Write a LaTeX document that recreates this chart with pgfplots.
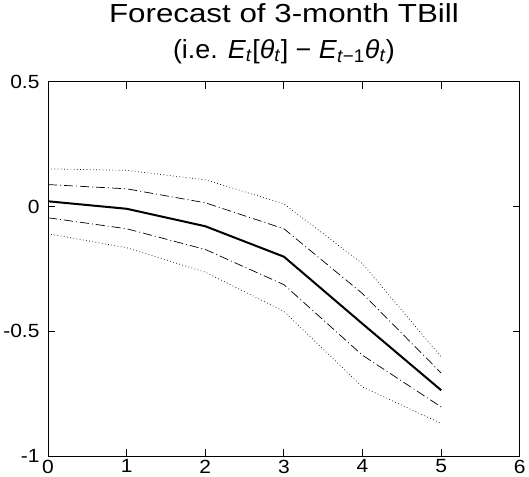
\documentclass[border=0pt]{standalone}
\usepackage{fontspec}
\setmainfont{Liberation Sans}
\newfontfamily\titlefont[FakeStretch=1.2]{Liberation Sans}
\newfontfamily\subtitlefont[FakeStretch=1.03]{Liberation Sans}
\newfontfamily\tickfont[FakeStretch=1.1]{Liberation Sans}
\usepackage{pgfplots}
\pgfplotsset{compat=1.18}

\begin{document}
\begin{tikzpicture}
  \begin{axis}[
    scale only axis,
    width=470pt, height=373pt,
    xmin=0, xmax=6,
    ymin=-1, ymax=0.5,
    xtick={0,1,2,3,4,5,6},
    ytick={-1,-0.5,0,0.5},
    yticklabels={-1,-0.5,0,0.5},
    xticklabels={0,1,2,3,4,5,6},
    tick align=inside,
    major tick length=7pt,
    axis line style={line width=0.9pt},
    tick style={line width=0.9pt, black},
    ticklabel style={font=\tickfont\fontsize{19}{22}\selectfont},
    yticklabel style={xshift=-5pt},
    title style={align=center, inner xsep=0pt, inner ysep=4pt, yshift=8pt,
      font=\titlefont\fontsize{26}{35}\selectfont},
    title={Forecast of 3-month TBill\\{\subtitlefont(i.e. \textit{E}\textsubscript{\textit{t}}[\textit{θ}\textsubscript{\textit{t}}] − \textit{E}\textsubscript{\textit{t}−1}\textit{θ}\textsubscript{\textit{t}})}},
  ]
    % upper dotted band
    \addplot[black, line width=0.7pt, dash pattern=on 0.7pt off 2.5pt] coordinates {
      (0,0.151) (1,0.145) (2,0.107) (3,0.011) (4,-0.229) (5,-0.603)
    };
    % upper dash-dot band
    \addplot[black, line width=0.7pt, dash pattern=on 9pt off 3pt on 1pt off 3pt] coordinates {
      (0,0.088) (1,0.071) (2,0.015) (3,-0.089) (4,-0.349) (5,-0.667)
    };
    % forecast
    \addplot[black, line width=2pt] coordinates {
      (0,0.021) (1,-0.009) (2,-0.079) (3,-0.201) (4,-0.470) (5,-0.736)
    };
    % lower dash-dot band
    \addplot[black, line width=0.7pt, dash pattern=on 9pt off 3pt on 1pt off 3pt] coordinates {
      (0,-0.045) (1,-0.089) (2,-0.172) (3,-0.313) (4,-0.596) (5,-0.803)
    };
    % lower dotted band
    \addplot[black, line width=0.7pt, dash pattern=on 0.7pt off 2.5pt] coordinates {
      (0,-0.109) (1,-0.165) (2,-0.263) (3,-0.420) (4,-0.723) (5,-0.869)
    };
  \end{axis}
\end{tikzpicture}
\end{document}
